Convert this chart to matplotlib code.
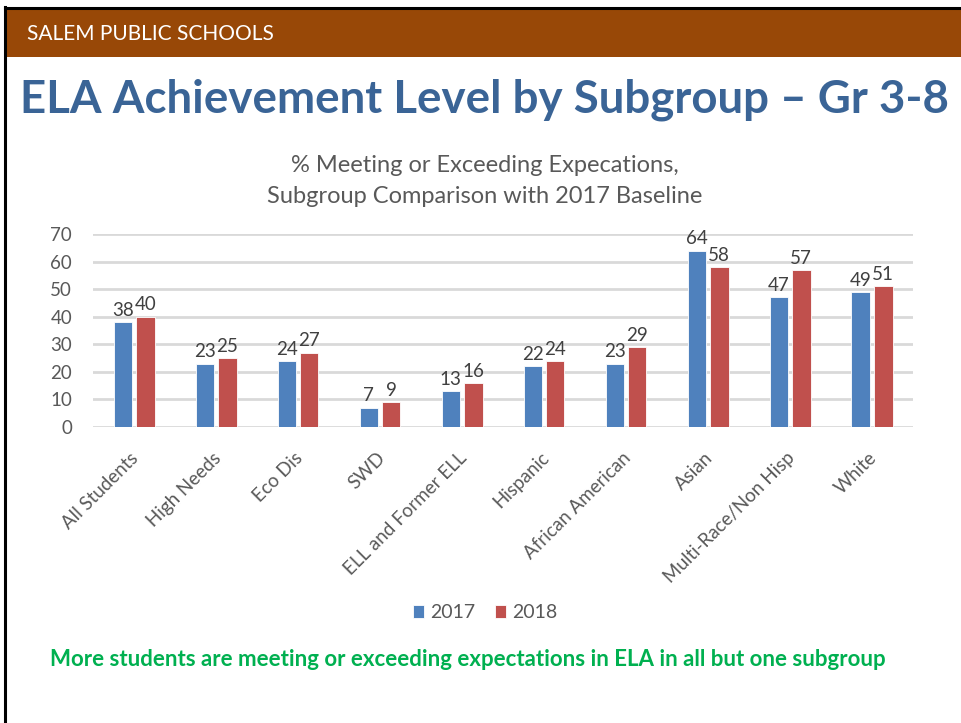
import matplotlib
matplotlib.use("Agg")
import matplotlib.pyplot as plt
from matplotlib.patches import Rectangle
from matplotlib.lines import Line2D
from matplotlib.transforms import ScaledTranslation
import numpy as np

categories = ["All Students", "High Needs", "Eco Dis", "SWD", "ELL and Former ELL",
              "Hispanic", "African American", "Asian", "Multi-Race/Non Hisp", "White"]
values_2017 = [38, 23, 24, 7, 13, 22, 23, 64, 47, 49]
values_2018 = [40, 25, 27, 9, 16, 24, 29, 58, 57, 51]
series_names = ["2017", "2018"]
yticks = [0, 10, 20, 30, 40, 50, 60, 70]

W, H = 961, 723
fig = plt.figure(figsize=(W / 100, H / 100), dpi=100)
fig.patch.set_facecolor("white")

# slide border and header bar
fig.add_artist(Rectangle((6 / W, 1 - 57 / H), 1, 47 / H, transform=fig.transFigure,
                         facecolor="#984807", edgecolor="none"))
fig.add_artist(Line2D([4.5 / W, 4.5 / W], [0, 1 - 7 / H], transform=fig.transFigure,
                      color="black", lw=2.2))
fig.add_artist(Line2D([4.5 / W, 1], [1 - 8 / H, 1 - 8 / H], transform=fig.transFigure,
                      color="black", lw=2.2))
fig.text(27 / W, 1 - 34 / H, "SALEM PUBLIC SCHOOLS", color="white", fontsize=15,
         family="Lato", va="center", ha="left")

title = fig.text(20 / W, 1 - 100 / H, "ELA Achievement Level by Subgroup \u2013 Gr 3-8",
                 color="#3A6496", fontsize=30, family="Lato", weight="bold",
                 va="center", ha="left")
fig.canvas.draw()
bb = title.get_window_extent()
title.set_fontsize(30 * (928 / bb.width))

fig.text(485 / W, 1 - 165 / H, "% Meeting or Exceeding Expecations,", color="#595959",
         fontsize=17, family="Lato", ha="center", va="center")
fig.text(485 / W, 1 - 197 / H, "Subgroup Comparison with 2017 Baseline", color="#595959",
         fontsize=17, family="Lato", ha="center", va="center")

ax = fig.add_axes([93 / W, (H - 427) / H, 820 / W, 193 / H])
x = np.arange(len(categories))
bw = 0.225
gap = 0.025
c17, c18 = "#4F81BD", "#C0504D"
b1 = ax.bar(x - bw / 2 - gap, values_2017, bw, color=c17, edgecolor="white", linewidth=0.6,
            label=series_names[0], zorder=3)
b2 = ax.bar(x + bw / 2 + gap, values_2018, bw, color=c18, edgecolor="white", linewidth=0.6,
            label=series_names[1], zorder=3)
for bars, vals in ((b1, values_2017), (b2, values_2018)):
    for r, v in zip(bars, vals):
        ax.text(r.get_x() + r.get_width() / 2, v + 1.2, f"{v}", ha="center", va="bottom",
                fontsize=13.5, color="#404040", family="Lato")

ax.set_xlim(-0.5, len(categories) - 0.5)
ax.set_ylim(0, 70)
ax.set_yticks(yticks)
ax.set_yticklabels([str(t) for t in yticks], fontsize=13.5, color="#595959", family="Lato")
ax.yaxis.grid(True, color="#D9D9D9", lw=2, zorder=0)
ax.set_axisbelow(True)
for s in ax.spines.values():
    s.set_visible(False)
ax.tick_params(axis="both", length=0)
ax.tick_params(axis="y", pad=15)
ax.set_xticks(x)
ax.set_xticklabels(categories, rotation=45, ha="right", rotation_mode="anchor",
                   fontsize=13.5, color="#595959", family="Lato")
ax.tick_params(axis="x", pad=16)
off = ScaledTranslation(-4 / 100, 0, fig.dpi_scale_trans)
for lab in ax.get_xticklabels():
    lab.set_transform(lab.get_transform() + off)

leg = fig.legend(handles=[b1, b2], labels=series_names, loc="center",
                 bbox_to_anchor=(485 / W, 1 - 613 / H), ncol=2, frameon=False,
                 handlelength=0.6, handleheight=0.6, columnspacing=1.0,
                 handletextpad=0.3, prop={"family": "Lato", "size": 14})
for t in leg.get_texts():
    t.set_color("#595959")

fig.text(468 / W, 1 - 660 / H,
         "More students are meeting or exceeding expectations in ELA in all but one subgroup",
         color="#00B050", fontsize=16, weight="bold", family="Lato", ha="center", va="center")

fig.savefig("out.png", dpi=100)
